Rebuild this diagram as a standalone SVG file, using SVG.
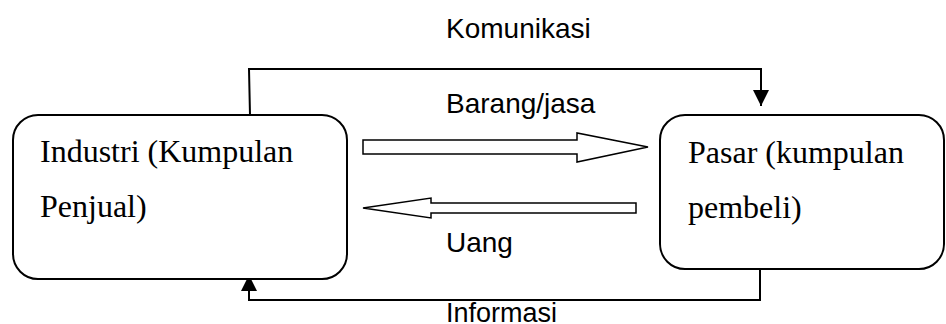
<svg xmlns="http://www.w3.org/2000/svg" width="946" height="324" viewBox="0 0 946 324">
<defs>
<style>
.box{fill:#fff;stroke:#000;stroke-width:2}
.line{fill:none;stroke:#000;stroke-width:2}
.hollow{fill:#fff;stroke:#000;stroke-width:1.5;stroke-linejoin:miter}
.serif{font-family:"Liberation Serif","Times New Roman",serif;font-size:32px;fill:#000}
.sans{font-family:"Liberation Sans",Arial,sans-serif;font-size:28px;fill:#000}
</style>
<marker id="tri" markerWidth="16" markerHeight="16" refX="16" refY="8" orient="auto" markerUnits="userSpaceOnUse">
<path d="M0,0 L16,8 L0,16 Z" fill="#000"/>
</marker>
</defs>
<rect width="946" height="324" fill="#fff"/>
<g id="connectors">
<polyline class="line" points="250,115 249,69 761,69 761,106" marker-end="url(#tri)"/>
<polyline class="line" points="760,263 760,300 249,300 249,275" marker-end="url(#tri)"/>
<polygon id="arrow-barang" class="hollow" points="363,140 577,140 577,133 648,147 577,162 577,154 363,154"/>
<polygon id="arrow-uang" class="hollow" points="636,203 431,203 431,198 363,208 431,218 431,213 636,213"/>
<text class="sans" x="446" y="38">Komunikasi</text>
<text class="sans" x="446" y="113">Barang/jasa</text>
<text class="sans" x="446" y="252">Uang</text>
<text class="sans" x="446" y="321.5" style="font-size:27px">Informasi</text>
</g>
<g id="industri">
<rect class="box" x="13" y="115" width="334" height="164" rx="25" ry="25"/>
<text class="serif" x="40" y="162">Industri (Kumpulan</text>
<text class="serif" x="40" y="217">Penjual)</text>
</g>
<g id="pasar">
<rect class="box" x="660" y="115" width="284" height="154" rx="25" ry="25"/>
<text class="serif" x="688" y="163">Pasar (kumpulan</text>
<text class="serif" x="688" y="218">pembeli)</text>
</g>
</svg>
